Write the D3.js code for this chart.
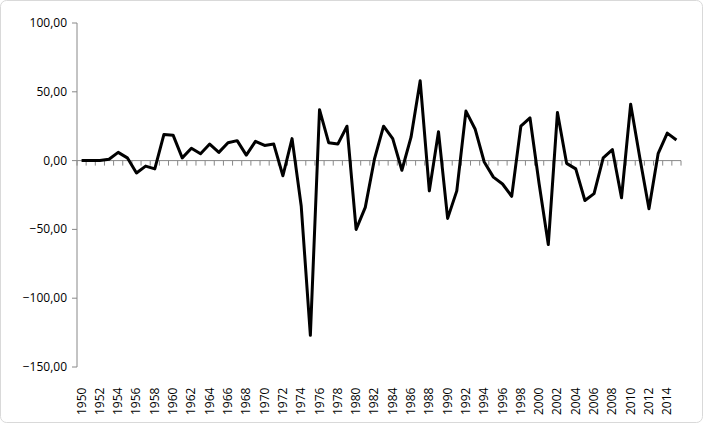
<!DOCTYPE html>
<html><head><meta charset="utf-8">
<script src="https://cdn.jsdelivr.net/npm/d3@7"></script>
<style>body{margin:0;background:#fff}</style></head>
<body>
<script>
const years = d3.range(1950, 2016);
const values = [0,0,0,1,6,2,-9,-4,-6,19,18.5,2,9,5,12,6,13,14.5,4,14,11,12,-11,16,-33,-127,37,13,12,25,-50,-34,1,25,16,-7,17,58,-22,21,-42,-22,36,23,-1,-12,-17,-26,25,31,-17,-61,35,-2,-6,-29,-24,2,8,-27,41,2,-35,5,20,15];
const yTicks = [-150,-100,-50,0,50,100];

const W = 703, H = 423;
const svg = d3.select("body").append("svg").attr("width", W).attr("height", H);
svg.append("rect").attr("x",0.5).attr("y",0.5).attr("width",W-1).attr("height",H-1)
  .attr("rx",6).attr("fill","#fff").attr("stroke","#d9d9d9");

const x = d3.scalePoint().domain(years).range([77, 681]).padding(0.5);
const y = d3.scaleLinear().domain([-150, 100]).range([367, 23]);
const fmt = v => d3.format(".2f")(v).replace(".", ",").replace("-", "-");

// y axis
svg.append("line").attr("x1",77).attr("x2",77).attr("y1",23).attr("y2",367).attr("stroke","#888");
yTicks.forEach(t => {
  svg.append("line").attr("x1",72).attr("x2",77).attr("y1",y(t)).attr("y2",y(t)).attr("stroke","#888");
  svg.append("text").attr("x",67).attr("y",y(t)+4).attr("text-anchor","end")
    .attr("font-family","Open Sans, sans-serif").attr("font-size",12).text(fmt(t));
});

// x axis at zero
svg.append("line").attr("x1",77).attr("x2",681).attr("y1",y(0)).attr("y2",y(0)).attr("stroke","#888");
const step = x.step();
d3.range(years.length + 1).forEach(i => {
  const xx = 77 + i * step;
  svg.append("line").attr("x1",xx).attr("x2",xx).attr("y1",y(0)).attr("y2",y(0)+5).attr("stroke","#888");
});
years.filter((d,i) => i % 2 === 0).forEach(d => {
  svg.append("text").attr("transform",`translate(${x(d)+4},${415}) rotate(-90)`)
    .attr("font-family","Open Sans, sans-serif").attr("font-size",12).text(d);
});

svg.append("path").datum(values)
  .attr("fill","none").attr("stroke","#000").attr("stroke-width",3).attr("stroke-linejoin","round")
  .attr("d", d3.line().x((d,i) => x(years[i])).y(d => y(d)));
</script>
</body></html>
